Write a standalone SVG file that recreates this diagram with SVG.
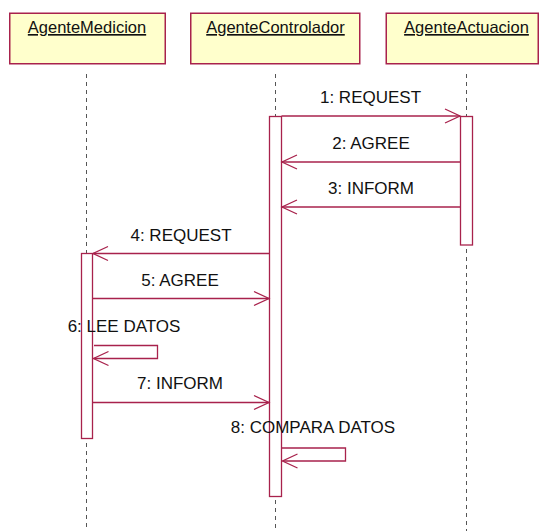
<svg xmlns="http://www.w3.org/2000/svg" width="539" height="531" viewBox="0 0 539 531">
  <style>
    .obj { fill: #ffffcc; stroke: #a8224c; stroke-width: 1.5; }
    .name { font-family: "Liberation Sans", Arial, sans-serif; font-size: 16.5px; fill: #111; text-anchor: middle; text-decoration: underline; }
    .life { stroke: #555; stroke-width: 1; stroke-dasharray: 4 4; fill: none; }
    .act { fill: #fff; stroke: #a8224c; stroke-width: 1.3; }
    .msg { stroke: #a8224c; stroke-width: 1.3; fill: none; marker-end: url(#open); }
    .lbl { font-family: "Liberation Sans", Arial, sans-serif; font-size: 17px; fill: #111; text-anchor: middle; }
  </style>
  <defs>
    <marker id="open" markerUnits="userSpaceOnUse" markerWidth="18" markerHeight="18" refX="15" refY="7" orient="auto" overflow="visible">
      <path d="M0,0 L15,7 L0,14" fill="none" stroke="#a8224c" stroke-width="1.3"/>
    </marker>
  </defs>
  <rect width="539" height="531" fill="#fff"/>

  <!-- lifelines -->
  <g id="lifelines">
    <line class="life" x1="86.5" y1="74" x2="86.5" y2="253"/>
    <line class="life" x1="86.5" y1="443" x2="86.5" y2="531"/>
    <line class="life" x1="275.5" y1="74" x2="275.5" y2="116"/>
    <line class="life" x1="275.5" y1="500" x2="275.5" y2="531"/>
    <line class="life" x1="466.5" y1="74" x2="466.5" y2="116"/>
    <line class="life" x1="466.5" y1="249" x2="466.5" y2="531"/>
  </g>

  <g id="AgenteMedicion">
    <rect class="obj" x="9.75" y="13.25" width="155.5" height="50.5"/>
    <text class="name" x="87" y="33">AgenteMedicion</text>
    <rect class="act" x="81.5" y="253.5" width="11" height="185"/>
  </g>
  <g id="AgenteControlador">
    <rect class="obj" x="190.75" y="13.25" width="169" height="50.5"/>
    <text class="name" x="275.5" y="33">AgenteControlador</text>
    <rect class="act" x="269.5" y="116.5" width="12" height="380"/>
  </g>
  <g id="AgenteActuacion">
    <rect class="obj" x="386.25" y="13.25" width="152" height="50.5"/>
    <text class="name" x="466.5" y="33">AgenteActuacion</text>
    <rect class="act" x="460.5" y="116.5" width="12" height="128.5"/>
  </g>

  <!-- messages -->
  <g id="connectors">
    <line class="msg" x1="281.5" y1="116" x2="460" y2="116"/>
    <line class="msg" x1="460" y1="162" x2="282" y2="162"/>
    <line class="msg" x1="460" y1="207" x2="282" y2="207"/>
    <line class="msg" x1="269.5" y1="253.5" x2="93" y2="253.5"/>
    <line class="msg" x1="92.5" y1="298.5" x2="269" y2="298.5"/>
    <path class="msg" d="M94,345.5 H157.5 V358.5 H93.5"/>
    <line class="msg" x1="92.5" y1="402.5" x2="269" y2="402.5"/>
    <path class="msg" d="M282,448 H345.5 V461 H282.5"/>
  </g>

  <g id="labels">
    <text class="lbl" x="370.5" y="103">1: REQUEST</text>
    <text class="lbl" x="371" y="149">2: AGREE</text>
    <text class="lbl" x="371" y="194">3: INFORM</text>
    <text class="lbl" x="181" y="241">4: REQUEST</text>
    <text class="lbl" x="180" y="286">5: AGREE</text>
    <text class="lbl" x="124" y="332">6: LEE DATOS</text>
    <text class="lbl" x="180" y="389">7: INFORM</text>
    <text class="lbl" x="313" y="433">8: COMPARA DATOS</text>
  </g>
</svg>
